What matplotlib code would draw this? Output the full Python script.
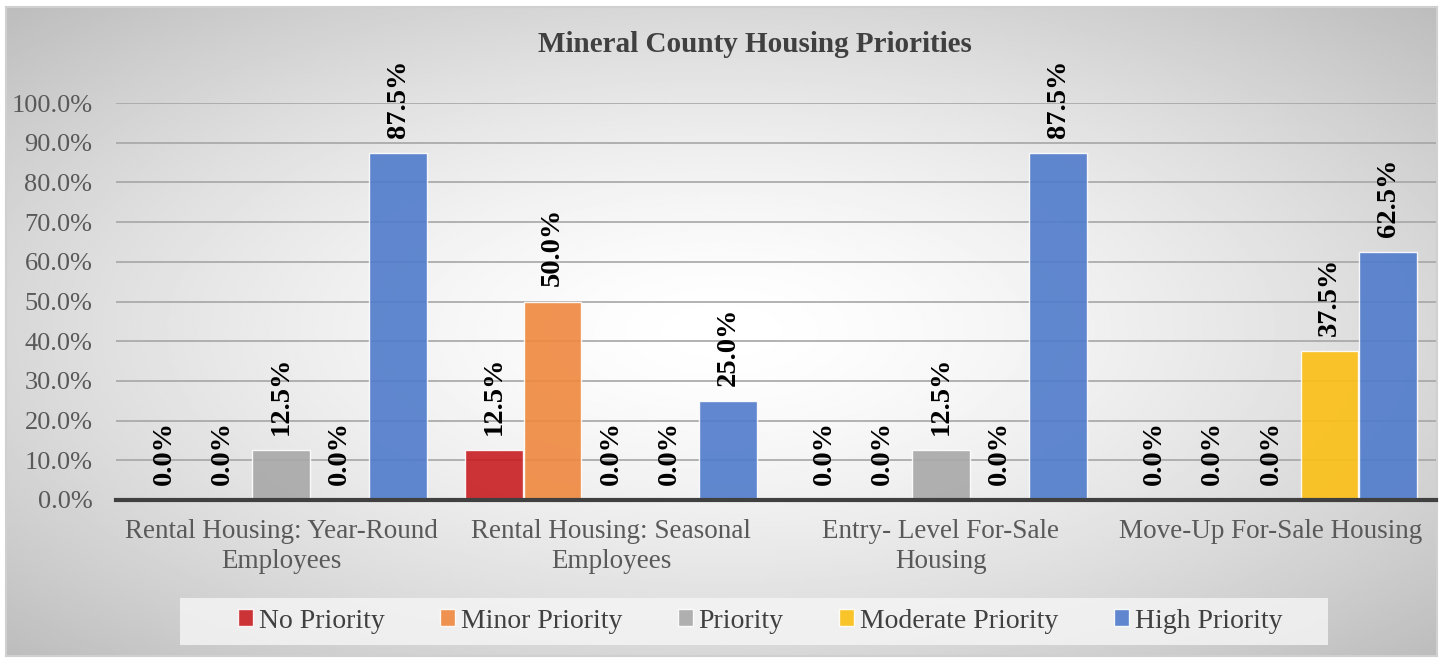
import numpy as np
import matplotlib.pyplot as plt
from matplotlib.patches import Rectangle

categories = ["Rental Housing: Year-Round\nEmployees", "Rental Housing: Seasonal\nEmployees",
              "Entry- Level For-Sale\nHousing", "Move-Up For-Sale Housing"]
series = ["No Priority", "Minor Priority", "Priority", "Moderate Priority", "High Priority"]
values = {
    "No Priority":       [0.0, 12.5, 0.0, 0.0],
    "Minor Priority":    [0.0, 50.0, 0.0, 0.0],
    "Priority":          [12.5, 0.0, 12.5, 0.0],
    "Moderate Priority": [0.0, 0.0, 0.0, 37.5],
    "High Priority":     [87.5, 25.0, 87.5, 62.5],
}
colors = ["#C81E22", "#EF883F", "#A8A8A8", "#FBBF14", "#4F7BCB"]
yticks = np.arange(0, 101, 10)

plt.rcParams['font.family'] = ['Liberation Serif', 'DejaVu Serif']

W, H = 1442, 660
fig = plt.figure(figsize=(W / 100, H / 100), dpi=100)
fig.set_facecolor('white')

# radial gradient background of the chart frame
bg = fig.add_axes([6 / W, 1 - 656 / H, 1431 / W, 649 / H], zorder=0)
yy, xx = np.mgrid[-1:1:300j, -1:1:600j]
r = np.sqrt(xx ** 2 + yy ** 2) / np.sqrt(2)
shade = 1.0 - 0.26 * r ** 1.5
bg.imshow(shade, cmap='gray', vmin=0, vmax=1, aspect='auto', extent=[0, 1, 0, 1])
bg.set_xticks([])
bg.set_yticks([])
for s in bg.spines.values():
    s.set_color('#d0d0d0')
    s.set_linewidth(1.5)

ax = fig.add_axes([116 / W, 1 - 500 / H, 1320 / W, 397 / H], zorder=1)
ax.set_facecolor('none')

x = np.arange(len(categories))
step = 0.1773
width = 0.173
for i, name in enumerate(series):
    pos = x + (i - 2) * step
    vals = values[name]
    ax.bar(pos, vals, width, color=colors[i], alpha=0.9, edgecolor='#ffffff80',
           linewidth=1, label=name, zorder=2)
    for p, v in zip(pos, vals):
        ax.text(p, v + 3.8, f"{v:.1f}%", rotation=90, ha='center', va='bottom',
                fontsize=20.5, fontweight='bold', color='black', clip_on=False, zorder=3)

ax.set_xlim(-0.5, 3.5)
ax.set_ylim(0, 100)
ax.set_yticks(yticks)
ax.set_yticklabels([f"{t:.1f}%" for t in yticks], fontsize=19, color='#595959')
ax.set_xticks(x)
ax.set_xticklabels(categories, fontsize=19.5, color='#595959', linespacing=1.25)
ax.tick_params(axis='y', length=0, pad=17)
ax.tick_params(axis='x', length=0, pad=14)
ax.grid(axis='y', color='#a6a6a6', linewidth=1.2, zorder=0)
ax.set_axisbelow(True)
for s in ['top', 'right', 'left']:
    ax.spines[s].set_visible(False)
ax.spines['bottom'].set_color('#404040')
ax.spines['bottom'].set_linewidth(3)
ax.spines['bottom'].set_zorder(4)

fig.text(755 / W, 1 - 45 / H, "Mineral County Housing Priorities", ha='center', va='center',
         fontsize=21, fontweight='bold', color='#404040')

# legend backdrop
fig.patches.append(Rectangle((180 / W, 1 - 645 / H), 1148 / W, 47 / H, transform=fig.transFigure,
                             facecolor='#f6f6f6', alpha=0.8, edgecolor='none', zorder=2))

handles, labels = ax.get_legend_handles_labels()
leg = fig.legend(handles, labels, loc='center', bbox_to_anchor=(760 / W, 1 - 621 / H), ncol=5,
                 fontsize=20, frameon=False, handlelength=0.55, handleheight=0.55,
                 handletextpad=0.2, columnspacing=2.0, labelcolor='#404040')
leg.set_zorder(5)

fig.savefig('out.png', dpi=100)
